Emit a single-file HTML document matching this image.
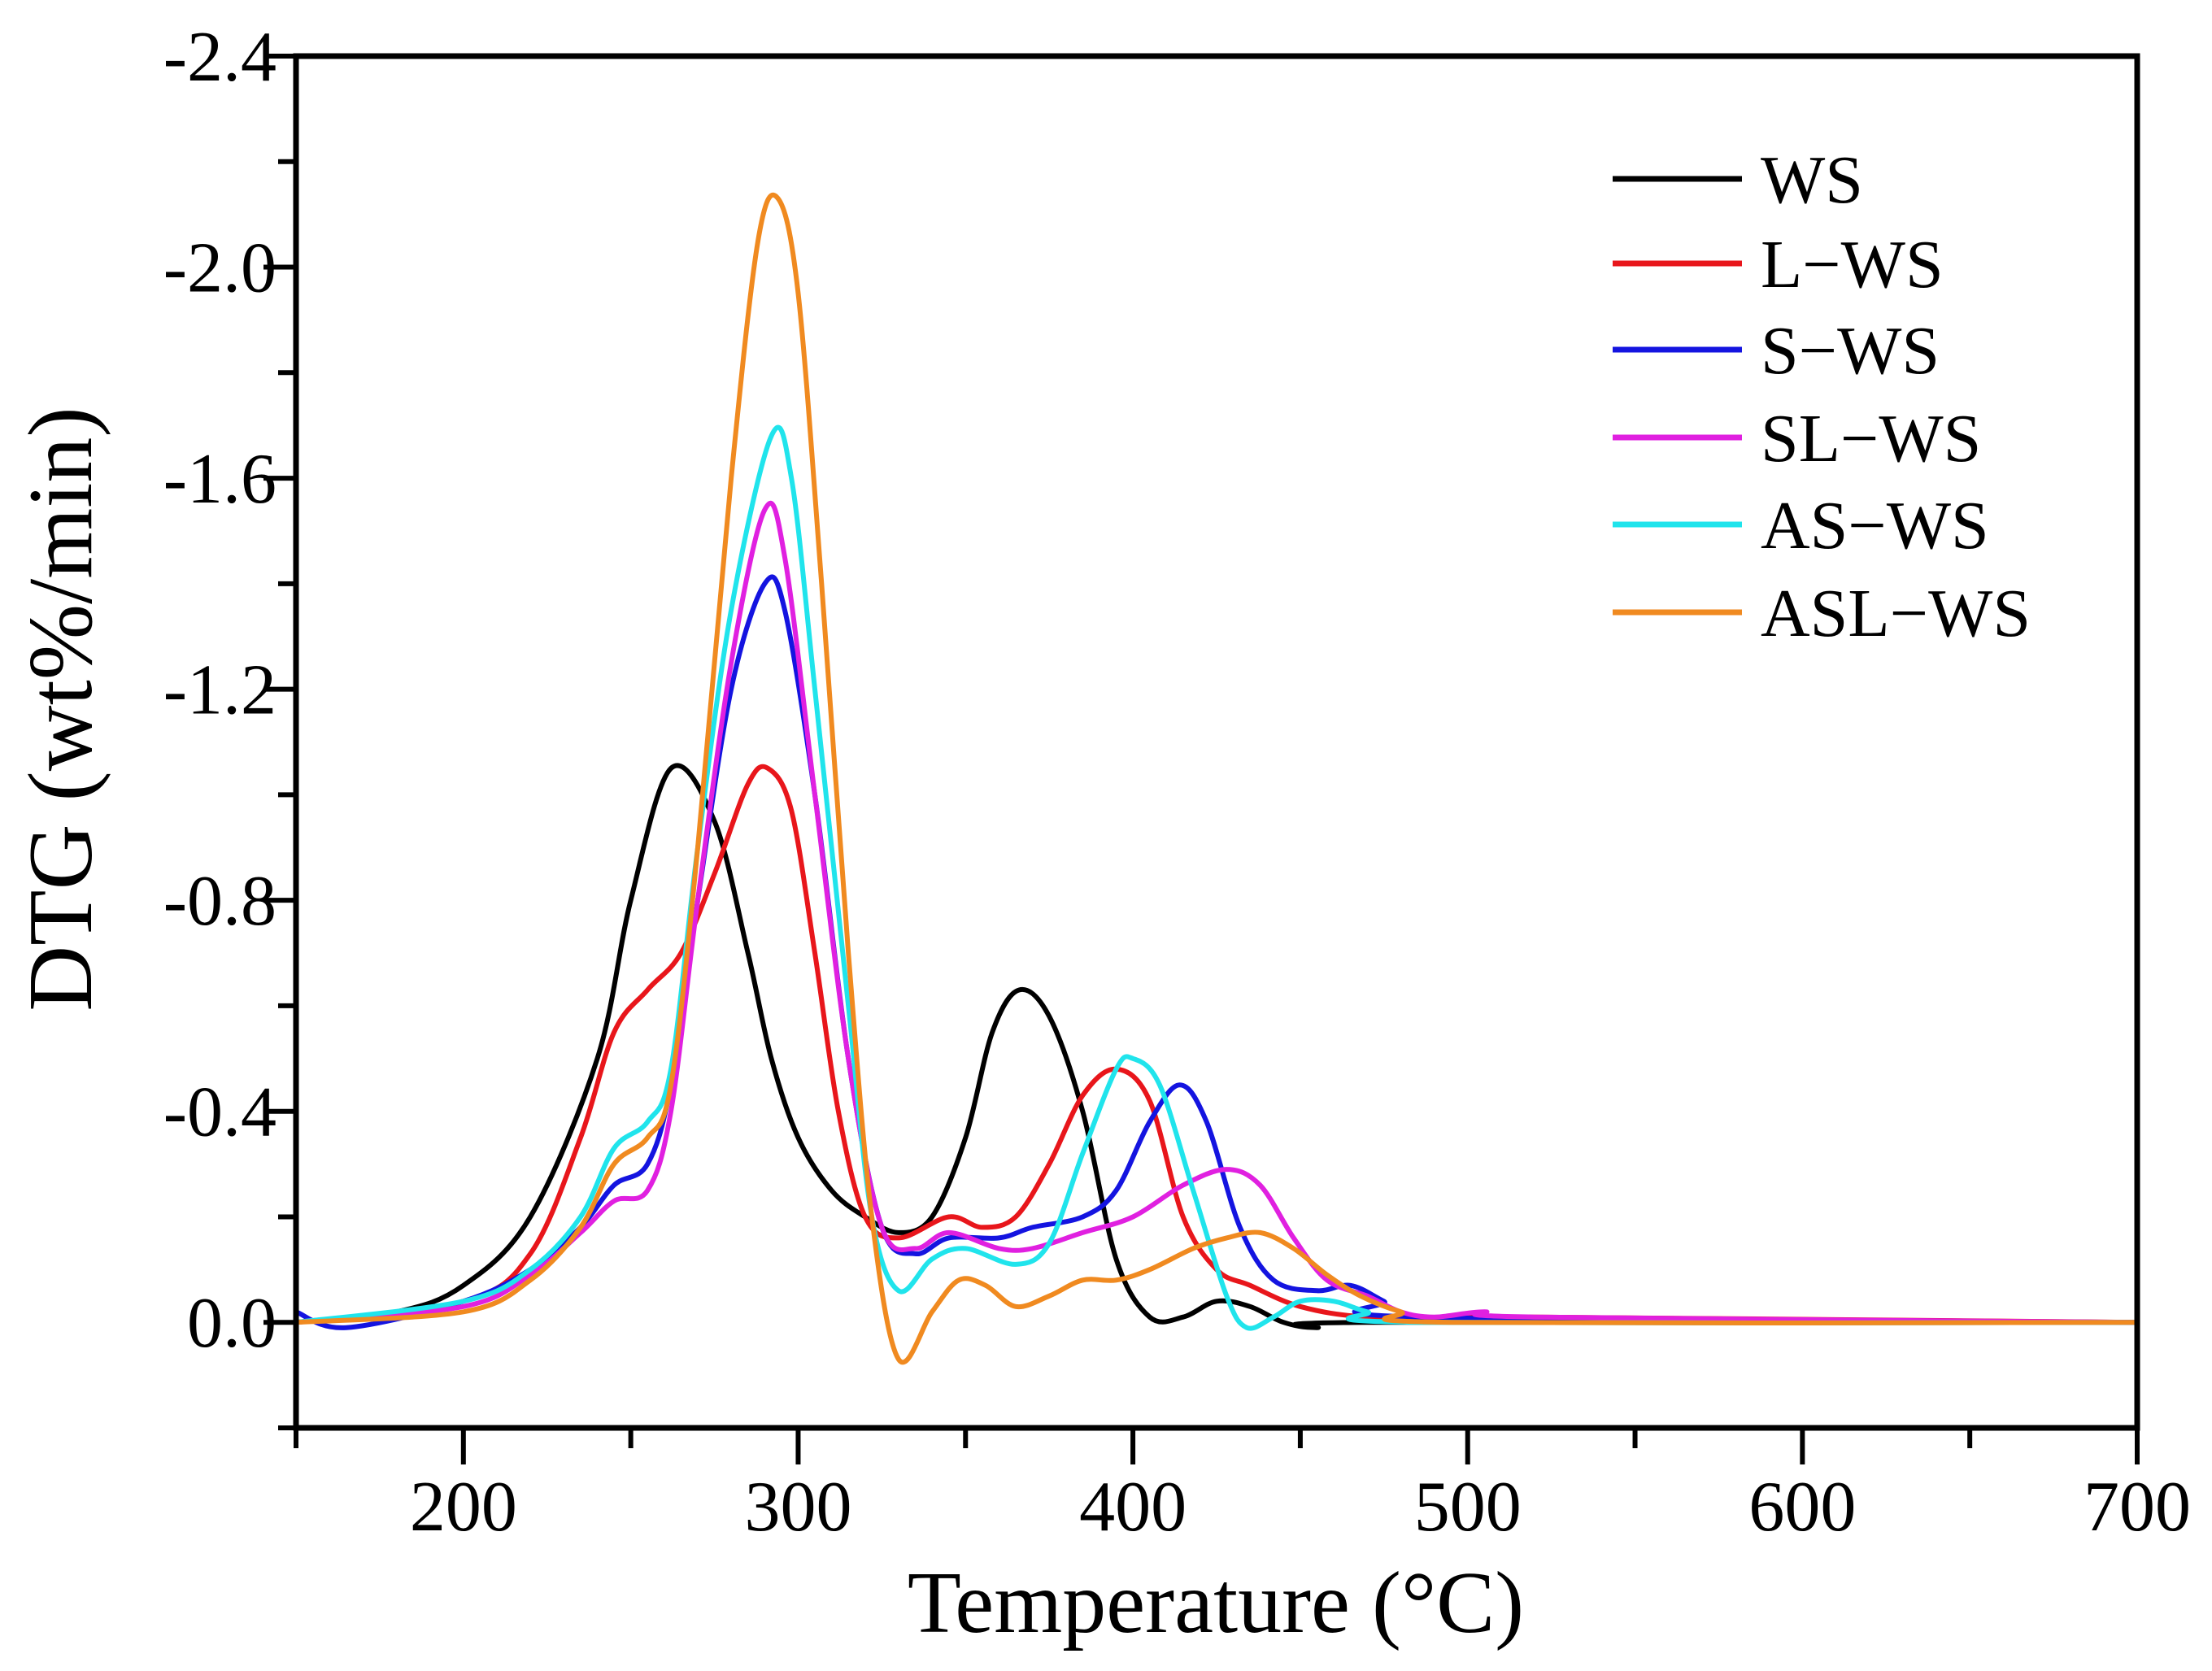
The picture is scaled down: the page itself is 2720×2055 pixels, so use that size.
<!DOCTYPE html>
<html><head><meta charset="utf-8"><style>
html,body{margin:0;padding:0;background:#fff;}
svg{display:block;font-family:"Liberation Serif",serif;}
</style></head><body>
<svg id="chart" width="2720" height="2055" viewBox="0 0 2720 2055" xmlns="http://www.w3.org/2000/svg"></svg>
<script>
const xTicks=[200,300,400,500,600,700];
const yTicks=[0.0,-0.4,-0.8,-1.2,-1.6,-2.0,-2.4];
const yTickLabels=["0.0","-0.4","-0.8","-1.2","-1.6","-2.0","-2.4"];
const seriesNames=["WS","L\u2212WS","S\u2212WS","SL\u2212WS","AS\u2212WS","ASL\u2212WS"];
const seriesColors=["#000000","#e8161b","#1414e0","#e020e0","#20e4ec","#f08a20"];
const wsT=[150,180,200,220,240,250,262,275,285,292,300,310,320,330,340,350,358,366,375,385,395,405,415,425,435,445,455,470,700];
const wsV=[0,-0.02,-0.07,-0.2,-0.5,-0.8,-1.05,-0.95,-0.7,-0.5,-0.35,-0.25,-0.2,-0.17,-0.2,-0.35,-0.55,-0.63,-0.58,-0.4,-0.12,-0.01,-0.01,-0.04,-0.03,0.0,0.01,0,0];
const lwsT=[150,200,220,235,245,255,265,275,285,291,298,305,312,320,330,345,355,365,375,385,395,405,415,425,435,450,470,500,520,700];
const lwsV=[0,-0.04,-0.13,-0.35,-0.55,-0.63,-0.7,-0.85,-1.02,-1.05,-0.97,-0.7,-0.4,-0.2,-0.16,-0.2,-0.18,-0.2,-0.3,-0.43,-0.48,-0.42,-0.2,-0.1,-0.07,-0.03,-0.01,-0.01,-0.01,0];
const swsT=[150,165,200,220,235,245,255,262,270,280,290,296,305,315,325,335,345,360,370,385,395,405,414,422,432,442,455,465,475,485,700];
const swsV=[-0.02,0.01,-0.04,-0.1,-0.18,-0.26,-0.3,-0.45,-0.8,-1.2,-1.4,-1.35,-1.0,-0.5,-0.18,-0.13,-0.16,-0.16,-0.18,-0.2,-0.25,-0.38,-0.45,-0.38,-0.18,-0.08,-0.06,-0.07,-0.04,-0.01,0];
const slwsT=[150,200,220,235,245,255,262,270,280,290,296,305,315,325,335,345,360,370,385,400,415,428,438,448,458,470,480,490,505,520,700];
const slwsV=[0,-0.03,-0.09,-0.17,-0.23,-0.25,-0.4,-0.8,-1.25,-1.54,-1.45,-1.0,-0.5,-0.18,-0.14,-0.17,-0.14,-0.14,-0.17,-0.2,-0.26,-0.29,-0.26,-0.16,-0.08,-0.05,-0.02,-0.01,-0.02,-0.01,0];
const aswsT=[150,200,220,235,245,255,262,270,280,292,298,305,315,322,330,340,350,365,375,385,395,400,408,418,428,434,442,450,460,470,485,700];
const aswsV=[0,-0.04,-0.1,-0.2,-0.33,-0.38,-0.48,-0.9,-1.35,-1.68,-1.6,-1.2,-0.6,-0.2,-0.06,-0.12,-0.14,-0.11,-0.15,-0.32,-0.48,-0.5,-0.45,-0.25,-0.05,0.01,-0.01,-0.04,-0.04,-0.02,0,0];
const aslwsT=[150,200,220,235,245,255,262,270,280,288,294,300,307,315,322,330,340,348,356,365,375,385,395,405,418,428,438,448,458,468,480,495,700];
const aslwsV=[0,-0.02,-0.08,-0.18,-0.3,-0.35,-0.45,-0.9,-1.6,-2.05,-2.13,-1.95,-1.4,-0.7,-0.2,0.07,-0.02,-0.08,-0.07,-0.03,-0.05,-0.08,-0.08,-0.1,-0.14,-0.16,-0.17,-0.14,-0.09,-0.05,-0.02,0,0];
const seriesT=[wsT,lwsT,swsT,slwsT,aswsT,aslwsT];
const seriesV=[wsV,lwsV,swsV,slwsV,aswsV,aslwsV];

const NS="http://www.w3.org/2000/svg";
const svg=document.getElementById('chart');
const L=364,R=2628,T=69,B=1756;
const xMin=150,xMax=700,yTop=-2.4,yBot=0.2;
function sx(t){return L+(t-xMin)/(xMax-xMin)*(R-L);}
function sy(v){return T+(v-yTop)/(yBot-yTop)*(B-T);}
function mk(tag,attrs){const e=document.createElementNS(NS,tag);for(const k in attrs)e.setAttribute(k,attrs[k]);return e;}

const clip=mk('clipPath',{id:'pc'});clip.appendChild(mk('rect',{x:L,y:T,width:R-L,height:B-T}));svg.appendChild(clip);

const g=mk('g',{'clip-path':'url(#pc)'});


svg.appendChild(g);
function pathFor(T_,V_){
  const p=T_.map((t,i)=>[sx(t),sy(V_[i])]);
  let d='M'+p[0][0].toFixed(1)+','+p[0][1].toFixed(1);
  for(let i=0;i<p.length-1;i++){
    const p0=p[i>0?i-1:i],p1=p[i],p2=p[i+1],p3=p[i+2<p.length?i+2:i+1];
    const c1=[p1[0]+(p2[0]-p0[0])/6,p1[1]+(p2[1]-p0[1])/6];
    const c2=[p2[0]-(p3[0]-p1[0])/6,p2[1]-(p3[1]-p1[1])/6];
    d+=' C'+c1[0].toFixed(1)+','+c1[1].toFixed(1)+' '+c2[0].toFixed(1)+','+c2[1].toFixed(1)+' '+p2[0].toFixed(1)+','+p2[1].toFixed(1);
  }
  return d;
}
const seriesKeys=['ws','l-ws','s-ws','sl-ws','as-ws','asl-ws'];
for(let s=0;s<seriesT.length;s++){
  const path=mk('path',{d:pathFor(seriesT[s],seriesV[s]),fill:'none',stroke:seriesColors[s],'stroke-width':6,'stroke-linejoin':'round'});
  
  
  g.appendChild(path);
}

const frame=mk('rect',{x:L,y:T,width:R-L,height:B-T,fill:'none',stroke:'#000','stroke-width':7});


svg.appendChild(frame);

for(let t=150;t<=700;t+=50){
  const major=(t%100===0);
  const tk=mk('line',{x1:sx(t),x2:sx(t),y1:B,y2:B+(major?45:25),stroke:'#000','stroke-width':6});
  
  
  svg.appendChild(tk);
}
xTicks.forEach(t=>{
  const tx=mk('text',{x:sx(t),y:1882,'font-size':88,'text-anchor':'middle',fill:'#000'});
  tx.textContent=String(t);
  
  
  svg.appendChild(tx);
});
for(let k=0;k<=13;k++){
  const v=0.2-k*0.2;
  const major=(k%2===1);
  const tk=mk('line',{x1:L,x2:L-(major?40:22),y1:sy(v),y2:sy(v),stroke:'#000','stroke-width':6});
  
  
  svg.appendChild(tk);
}
yTicks.forEach((v,i)=>{
  const tx=mk('text',{x:340,y:sy(v)+30,'font-size':88,'text-anchor':'end',fill:'#000'});
  tx.textContent=yTickLabels[i].replace('-','\u2011');
  
  
  svg.appendChild(tx);
});
</script>
<script>
(function(){
const svg=document.getElementById('chart');
const NS="http://www.w3.org/2000/svg";
const xt=document.createElementNS(NS,'text');
xt.setAttribute('x',1495);xt.setAttribute('y',2007);xt.setAttribute('font-size',108);xt.setAttribute('text-anchor','middle');
xt.textContent='Temperature (\u00B0C)';


svg.appendChild(xt);
const yt=document.createElementNS(NS,'text');
yt.setAttribute('transform','translate(112,872) rotate(-90)');yt.setAttribute('font-size',112);yt.setAttribute('text-anchor','middle');
yt.textContent='DTG (wt%/min)';


svg.appendChild(yt);
const rows=[220,324,430,538,645,753];
for(let i=0;i<seriesNames.length;i++){
  const ln=document.createElementNS(NS,'line');
  ln.setAttribute('x1',1983);ln.setAttribute('x2',2142);ln.setAttribute('y1',rows[i]);ln.setAttribute('y2',rows[i]);
  ln.setAttribute('stroke',seriesColors[i]);ln.setAttribute('stroke-width',7);
  
  
  svg.appendChild(ln);
  const tx=document.createElementNS(NS,'text');
  tx.setAttribute('x',2165);tx.setAttribute('y',rows[i]+29);tx.setAttribute('font-size',84);
  tx.textContent=seriesNames[i];
  
  
  svg.appendChild(tx);
}
})();
</script>
</body></html>
